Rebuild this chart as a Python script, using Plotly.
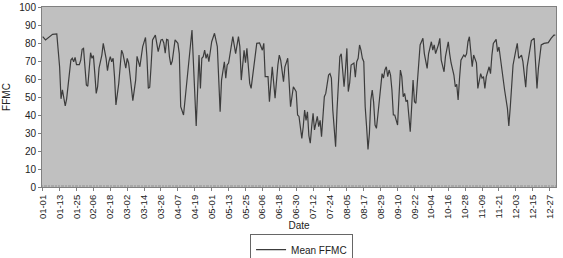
import pandas as pd
import plotly.graph_objects as go

# day-of-year index (0 = 1 Jan) and mean FFMC
doy = [0, 2, 7, 10, 12, 13, 14, 16, 17, 18, 20, 21, 22, 23, 24, 26, 27, 28, 29, 30,
       31, 32, 33, 34, 35, 36, 37, 38, 39, 40, 42, 43, 45, 46, 47, 48, 49, 50, 51, 52,
       54, 55, 56, 57, 59, 60, 61, 62, 63, 64, 66, 67, 68, 69, 70, 71, 73, 74, 75, 76,
       77, 78, 80, 81, 82, 84, 85, 86, 87, 88, 89, 90, 91, 92, 94, 96, 97, 98, 100, 106,
       109, 111, 112, 113, 114, 115, 116, 117, 118, 120, 122, 124, 126, 127, 129, 130, 131, 132, 135, 137,
       139, 140, 141, 143, 144, 145, 147, 148, 150, 152, 154, 156, 157, 158, 160, 161, 163, 165, 167, 168,
       169, 171, 172, 174, 176, 178, 180, 181, 182, 184, 185, 186, 187, 188, 189, 190, 191, 192, 193, 194,
       195, 196, 197, 198, 199, 200, 201, 203, 204, 205, 206, 208, 209, 211, 212, 213, 214, 215, 216, 217,
       218, 219, 221, 222, 223, 224, 225, 226, 227, 228, 229, 230, 231, 232, 233, 234, 235, 236, 237, 238,
       239, 240, 241, 242, 243, 244, 245, 246, 247, 248, 249, 250, 251, 252, 253, 254, 255, 256, 257, 258,
       259, 260, 261, 262, 263, 264, 265, 266, 267, 268, 270, 271, 273, 274, 276, 277, 278, 279, 281, 282,
       283, 285, 286, 288, 289, 290, 292, 293, 294, 295, 296, 297, 299, 300, 301, 302, 303, 305, 306, 308,
       309, 311, 312, 313, 314, 315, 317, 318, 319, 320, 322, 323, 324, 325, 327, 328, 330, 331, 332, 333,
       334, 336, 337, 338, 340, 341, 342, 343, 344, 346, 347, 349, 350, 351, 352, 353, 354, 356, 358, 359,
       361, 363, 364]
ffmc = [83.5, 81.7, 84.8, 85.0, 66.8, 49.0, 54.0, 45.0, 49.0, 55.7, 70.5, 71.5, 69.6, 72.0, 68.0, 68.0, 70.5, 76.5, 77.0, 66.8,
        56.7, 56.0, 66.8, 74.6, 71.5, 73.0, 63.0, 52.0, 55.7, 66.0, 73.3, 79.8, 71.5, 64.6, 69.6, 72.4, 69.6, 71.5, 61.3, 45.6,
        57.6, 69.6, 76.0, 74.0, 66.0, 71.5, 68.9, 62.2, 53.9, 48.0, 59.4, 72.6, 69.6, 66.8, 72.4, 78.0, 83.1, 72.4, 54.8, 55.4,
        67.8, 81.7, 84.4, 79.8, 75.2, 81.7, 82.0, 80.0, 74.3, 82.0, 81.7, 72.4, 67.8, 70.0, 81.7, 79.8, 74.0, 44.6, 40.0, 87.2,
        33.9, 73.3, 54.8, 71.5, 72.4, 76.1, 71.5, 74.0, 69.6, 80.7, 85.4, 78.0, 41.8, 59.4, 69.6, 60.5, 67.8, 68.9, 83.5, 74.1,
        83.5, 78.0, 59.4, 76.0, 69.0, 77.0, 57.6, 54.8, 67.8, 79.8, 80.0, 76.0, 79.8, 61.3, 61.3, 47.4, 66.8, 49.3, 67.8, 73.3,
        70.5, 58.5, 66.8, 71.5, 44.6, 55.7, 53.0, 40.0, 39.2, 27.0, 33.5, 42.8, 37.0, 41.8, 28.6, 24.3, 33.5, 41.0, 31.7, 35.0,
        39.2, 33.5, 37.0, 28.0, 42.8, 50.2, 52.0, 62.2, 63.0, 60.5, 42.8, 22.4, 42.8, 72.4, 74.0, 64.0, 55.7, 65.0, 77.0, 53.0,
        58.0, 67.8, 68.9, 61.0, 69.6, 71.5, 78.9, 76.0, 71.5, 69.6, 44.6, 33.5, 20.9, 29.8, 48.3, 53.9, 47.0, 34.4, 32.6, 40.0,
        48.3, 57.6, 63.0, 60.5, 65.0, 66.8, 61.3, 65.0, 62.2, 53.9, 40.0, 40.0, 36.5, 34.4, 50.2, 65.0, 61.3, 50.2, 52.0, 47.4,
        48.3, 37.2, 30.7, 44.6, 59.4, 47.4, 46.5, 57.6, 70.5, 78.9, 82.6, 74.1, 65.9, 74.0, 80.7, 76.0, 79.0, 74.1, 79.0, 82.6,
        70.5, 64.0, 72.4, 80.7, 74.0, 68.9, 62.2, 55.7, 57.0, 48.3, 60.5, 70.5, 73.3, 72.4, 74.0, 80.7, 83.5, 66.8, 73.3, 69.0,
        54.8, 63.0, 60.5, 61.3, 54.8, 61.3, 66.8, 63.0, 73.3, 79.8, 82.0, 75.2, 77.8, 71.5, 62.2, 53.9, 43.7, 33.9, 44.0, 57.6,
        67.8, 76.0, 79.8, 71.5, 73.3, 69.6, 60.5, 55.4, 66.8, 77.0, 81.3, 82.6, 68.0, 54.8, 66.0, 74.1, 78.9, 79.8, 79.8, 80.2,
        82.6, 84.4, 84.4]

year_start = pd.Timestamp("2001-01-01")
dates = [year_start + pd.Timedelta(days=d) for d in doy]

fig = go.Figure()
fig.add_trace(go.Scatter(
    x=dates, y=ffmc, mode="lines", name="Mean FFMC",
    line=dict(color="#3c3c3c", width=1.2),
))

font_family = "Liberation Sans, Arial, sans-serif"
fig.update_layout(
    width=563, height=258,
    margin=dict(l=42, r=7, t=7, b=71, autoexpand=False),
    paper_bgcolor="white",
    plot_bgcolor="#c0c0c0",
    font=dict(family=font_family, size=10, color="#222"),
    showlegend=True,
    legend=dict(
        x=0.505, xanchor="center", y=-0.262, yanchor="top",
        bordercolor="#666", borderwidth=1, bgcolor="white",
        font=dict(size=10, color="#222"), itemwidth=30,
        tracegroupgap=0,
    ),
)
fig.update_xaxes(
    type="date", automargin=False,
    range=[year_start - pd.Timedelta(hours=12), year_start + pd.Timedelta(days=364, hours=12)],
    tick0="2001-01-01", dtick=12 * 86400000, tickformat="%m-%d",
    tickangle=-90, tickfont=dict(size=9.5),
    showgrid=False, showline=True, linecolor="#808080", linewidth=1, mirror=True,
    ticks="outside", ticklen=3, tickcolor="#808080",
    minor=dict(dtick=86400000, ticks="inside", ticklen=2, tickcolor="#a8a8a8", showgrid=False),
    title=dict(text="Date", font=dict(size=10), standoff=3),
    zeroline=False,
)
fig.update_yaxes(
    range=[0, 100], dtick=10, showgrid=False, automargin=False,
    showline=True, linecolor="#808080", linewidth=1, mirror=True,
    ticks="outside", ticklen=3, tickcolor="#808080",
    tickfont=dict(size=10),
    title=dict(text="FFMC", font=dict(size=10), standoff=6),
    zeroline=False,
)

fig.write_html("out.html")
